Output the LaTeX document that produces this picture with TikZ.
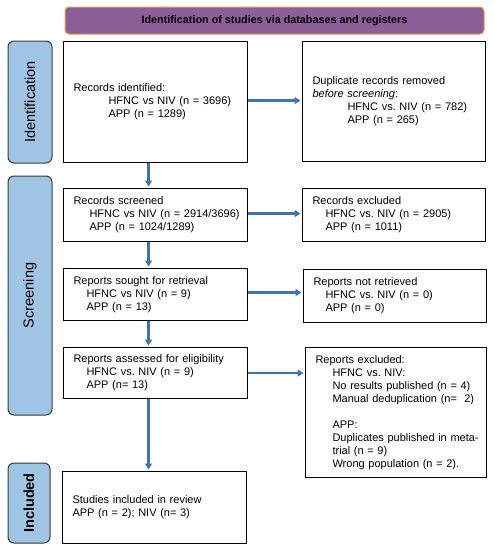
\documentclass[tikz,border=0pt]{standalone}
\usepackage{fontspec}
\setmainfont{Liberation Sans}
\usetikzlibrary{arrows.meta}
\frenchspacing

\definecolor{titlepurple}{HTML}{8B5E97}
\definecolor{titleorange}{HTML}{E9A23B}
\definecolor{sideblue}{HTML}{A0C4E3}
\definecolor{sideline}{HTML}{3A3A3A}
\definecolor{flowblue}{HTML}{3F72B5}

\tikzset{
  box/.style={draw=black, line width=1.1pt, anchor=north west,
    inner xsep=10pt, inner ysep=0pt, align=left,
    font=\fontsize{11}{13}\selectfont},
  sidelabel/.style={draw=sideline, fill=sideblue, line width=1pt,
    rounded corners=6pt, rotate=90, inner sep=0pt,
    font=\fontsize{14.5}{16}\selectfont},
  titlebar/.style={draw=titleorange, fill=titlepurple, line width=1pt,
    rounded corners=4pt, inner sep=0pt,
    font=\fontsize{10.8}{12}\selectfont\bfseries},
  flow/.style={draw=flowblue, line width=2.2pt,
    -{Triangle[length=6pt,width=7pt]}, shorten >=1.5pt}
}

\begin{document}
\begin{tikzpicture}[x=1pt,y=-1pt]
      \useasboundingbox (0,0) rectangle (495,550);

      % TITLE
      \node[titlebar, minimum width=419pt, minimum height=27pt] (title) at (274.5,20.5)
        {Identification of studies via databases and registers};

      % SIDE LABELS
      \node[sidelabel, minimum width=122pt, minimum height=44pt] (idlab) at (30,102) {Identification};
      \node[sidelabel, minimum width=239pt, minimum height=44pt] (scrlab) at (30,295.5) {Screening};
      \node[sidelabel, minimum width=80pt, minimum height=42pt,
        font=\fontsize{14.5}{16}\selectfont\bfseries] (inclab) at (29,503) {Included};

      % LEFT COLUMN
      \node[box, text width=164pt, minimum height=121pt] (ident) at (63,41)
        {\begin{tabular}{@{}l@{}}
         Records identified:\\
         \hspace*{35pt}HFNC vs NIV (n = 3696)\\
         \hspace*{35pt}APP (n = 1289)
         \end{tabular}};
      \node[box, text width=164pt, minimum height=53pt] (screen) at (63,188)
        {\begin{tabular}{@{}l@{}}
         Records screened\\
         \hspace*{16pt}HFNC vs NIV (n = 2914/3696)\\
         \hspace*{16pt}APP (n = 1024/1289)
         \end{tabular}};
      \node[box, text width=164pt, minimum height=52pt] (sought) at (63,268)
        {\begin{tabular}{@{}l@{}}
         Reports sought for retrieval\\
         \hspace*{13pt}HFNC vs NIV (n = 9)\\
         \hspace*{13pt}APP (n = 13)
         \end{tabular}};
      \node[box, text width=164pt, minimum height=51pt] (assess) at (63,347)
        {\begin{tabular}{@{}l@{}}
         Reports assessed for eligibility\\
         \hspace*{13pt}HFNC vs. NIV (n = 9)\\
         \hspace*{13pt}APP (n= 13)
         \end{tabular}};
      \node[box, text width=164pt, minimum height=72pt] (incl) at (62,471)
        {\begin{tabular}{@{}l@{}}
         Studies included in review\\
         APP (n = 2); NIV (n= 3)
         \end{tabular}};

      % RIGHT COLUMN
      \node[box, text width=163pt, minimum height=120pt] (dup) at (302,41)
        {\begin{tabular}{@{}l@{}}
         Duplicate records removed\\
         \textit{before screening}:\\
         \hspace*{35pt}HFNC vs. NIV (n = 782)\\
         \hspace*{35pt}APP (n = 265)
         \end{tabular}};
      \node[box, text width=163pt, minimum height=53pt] (recex) at (302,188)
        {\begin{tabular}{@{}l@{}}
         Records excluded\\
         \hspace*{13pt}HFNC vs. NIV (n = 2905)\\
         \hspace*{13pt}APP (n = 1011)
         \end{tabular}};
      \node[box, text width=163pt, minimum height=53pt] (notret) at (303,269)
        {\begin{tabular}{@{}l@{}}
         Reports not retrieved\\
         \hspace*{12pt}HFNC vs. NIV (n = 0)\\
         \hspace*{12pt}APP (n = 0)
         \end{tabular}};
      \node[box, text width=161pt, minimum height=130pt] (repex) at (305,347)
        {\begin{tabular}{@{}l@{}}
         Reports excluded:\\
         \hspace*{17pt}HFNC vs. NIV:\\
         \hspace*{17pt}No results published (n = 4)\\
         \hspace*{17pt}Manual deduplication (n=\ \ 2)\\[13pt]
         \hspace*{17pt}APP:\\
         \hspace*{17pt}Duplicates published in meta-\\
         \hspace*{17pt}trial (n = 9)\\
         \hspace*{17pt}Wrong population (n = 2).
         \end{tabular}};

      % ARROWS
      \draw[flow] ([xshift=-7pt]ident.south) -- ([xshift=-7pt]ident.south |- screen.north);
      \draw[flow] ([xshift=-7pt]screen.south) -- ([xshift=-7pt]screen.south |- sought.north);
      \draw[flow] ([xshift=-7pt]sought.south) -- ([xshift=-7pt]sought.south |- assess.north);
      \draw[flow] ([xshift=-7pt]assess.south) -- ([xshift=-7pt]assess.south |- incl.north);
      \draw[flow] ([yshift=1.5pt]ident.east) -- ([yshift=1.5pt]ident.east -| dup.west);
      \draw[flow] ([yshift=1.5pt]screen.east) -- ([yshift=1.5pt]screen.east -| recex.west);
      \draw[flow] ([yshift=2pt]sought.east) -- ([yshift=2pt]sought.east -| notret.west);
      \draw[flow] (assess.east) -- (assess.east -| repex.west);
\end{tikzpicture}
\end{document}
